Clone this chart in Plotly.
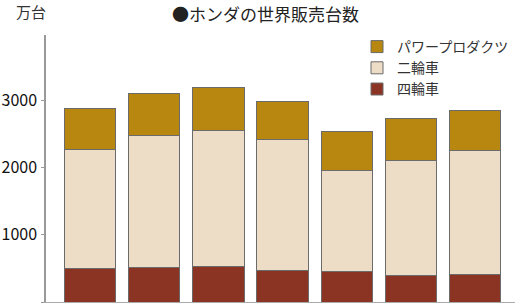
import plotly.graph_objects as go

years = ["1", "2", "3", "4", "5", "6", "7"]
four_wheel = [495, 520, 529, 470, 446, 395, 405]
two_wheel_total = [2263, 2471, 2550, 2412, 1956, 2100, 2248]
total = [2877, 3095, 3184, 2981, 2530, 2728, 2843]
two_wheel = [t - f for t, f in zip(two_wheel_total, four_wheel)]
power = [t - s for t, s in zip(total, two_wheel_total)]

names = ["四輪車", "二輪車", "パワープロダクツ"]
colors = ["#8B3424", "#EDDDC7", "#B8870F"]
series = [four_wheel, two_wheel, power]

font = "Noto Sans CJK JP"
fig = go.Figure()
for n, c, v in zip(names, colors, series):
    fig.add_trace(go.Bar(x=list(range(len(years))), y=v, name=n,
                         marker=dict(color=c, line=dict(color="#6b6b6b", width=1))))

W, H = 530, 303
L, R, T, B = 46, 15, 35, 1
pw, ph = W - L - R, H - T - B


def px(x):
    return (x - L) / pw


def py(y):
    return (H - B - y) / ph


fig.update_layout(
    barmode="stack", bargap=0.2,
    width=W, height=H,
    margin=dict(l=L, r=R, t=T, b=B),
    plot_bgcolor="white", paper_bgcolor="white",
    font=dict(family=font, size=15, color="#222"),
    showlegend=True,
    legend=dict(x=px(357), y=py(31), xanchor="left", yanchor="top",
                font=dict(size=14, color="#333"), tracegroupgap=0,
                bgcolor="rgba(0,0,0,0)", itemwidth=30),
    xaxis=dict(range=[-0.686, 6.622], showticklabels=False, ticks="",
               showline=True, linecolor="#aaa", linewidth=1, showgrid=False, zeroline=False),
    yaxis=dict(range=[0, 3967], tickvals=[0, 1000, 2000, 3000], ticks="outside",
               ticklen=3, tickcolor="#999", showline=True, linecolor="#999", linewidth=1.5,
               showgrid=False, zeroline=False, tickfont=dict(size=16, color="#111"),
               ticklabelstandoff=1),
    annotations=[
        dict(text="●ホンダの世界販売台数", x=px(265), y=py(0), xref="paper", yref="paper",
             xanchor="center", yanchor="top", borderpad=0,
             showarrow=False, font=dict(size=17, color="#222")),
        dict(text="万台", x=px(31), y=py(0), xref="paper", yref="paper",
             xanchor="center", yanchor="top", borderpad=0,
             showarrow=False, font=dict(size=15, color="#333")),
    ],
)

fig.write_html("out.html")
